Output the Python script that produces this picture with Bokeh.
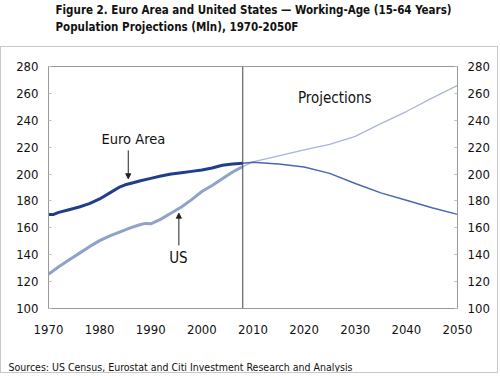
from bokeh.plotting import figure
from bokeh.models import (Range1d, LinearAxis, Label, Arrow, NormalHead, Span, FixedTicker)
from bokeh.layouts import column
from bokeh.embed import file_html
from bokeh.resources import INLINE

# ---- data ----
euro_hist_years = [1970, 1971, 1972, 1974, 1976, 1978, 1980, 1982, 1984, 1985, 1986,
                   1988, 1990, 1992, 1994, 1996, 1998, 2000, 2002, 2004, 2006, 2008]
euro_hist_vals = [170, 170, 171.5, 173.5, 175.5, 178, 181.5, 186, 190.5, 192, 193,
                  195, 196.8, 198.5, 200, 201, 202, 203, 204.5, 206.5, 207.5, 208]
euro_proj_years = [2008, 2010, 2015, 2020, 2025, 2030, 2035, 2040, 2045, 2050]
euro_proj_vals = [208, 208.8, 207.5, 205.2, 200.5, 193, 186, 180.5, 175, 170]

us_hist_years = [1970, 1972, 1974, 1976, 1978, 1980, 1982, 1984, 1986, 1988, 1989,
                 1990, 1992, 1994, 1996, 1998, 2000, 2002, 2004, 2006, 2008]
us_hist_vals = [125.5, 131, 136, 141, 146, 150.5, 154, 157, 160, 162.5, 163.3,
                163, 166.5, 171, 175.5, 181, 187, 191.5, 196.5, 201.5, 205.5]
us_proj_years = [2008, 2010, 2015, 2020, 2025, 2030, 2035, 2040, 2045, 2050]
us_proj_vals = [205.5, 209, 213.5, 218, 222, 228, 237.5, 246.5, 256.5, 266]

projection_start = 2008
x_ticks = [1970, 1980, 1990, 2000, 2010, 2020, 2030, 2040, 2050]
y_ticks = [100, 120, 140, 160, 180, 200, 220, 240, 260, 280]

title_line1 = "Figure 2. Euro Area and United States \u2014 Working-Age (15-64 Years)"
title_line2 = "Population Projections (Mln), 1970-2050F"
source_text = "Sources: US Census, Eurostat and Citi Investment Research and Analysis"

FONT = "'DejaVu Sans Condensed', 'Liberation Sans Narrow', 'Liberation Sans'"
TXT = "#111111"
BOX = "1px solid #c8c8c8"

# ---- title strip ----
t = figure(width=500, height=46, output_backend="svg", toolbar_location=None,
           x_range=Range1d(0, 1), y_range=Range1d(0, 1),
           min_border=0, background_fill_color="white", border_fill_color="white")
t.axis.visible = False
t.grid.visible = False
t.outline_line_color = None
t.add_layout(Label(x=8, y=36.5, x_units="screen", y_units="screen", text=title_line1,
                   text_font=FONT, text_font_style="bold", text_font_size="11.5px",
                   text_baseline="middle", text_color=TXT))
t.add_layout(Label(x=8, y=19.5, x_units="screen", y_units="screen", text=title_line2,
                   text_font=FONT, text_font_style="bold", text_font_size="11.5px",
                   text_baseline="middle", text_color=TXT))

# ---- main chart ----
p = figure(width=498, height=310, output_backend="svg", toolbar_location=None,
           x_range=Range1d(1970, 2050), y_range=Range1d(100, 280),
           min_border_left=47, min_border_right=42, min_border_top=19, min_border_bottom=49,
           background_fill_color="white", border_fill_color="white",
           styles={"border-left": BOX, "border-right": BOX, "border-top": BOX})
p.grid.visible = False
p.outline_line_color = "#999999"

def style_axis(ax):
    ax.axis_line_color = "#999999"
    ax.major_tick_in = 3
    ax.major_tick_out = 0
    ax.major_tick_line_color = "#bbbbbb"
    ax.minor_tick_line_color = None
    ax.major_label_text_font = FONT
    ax.major_label_text_font_size = "13px"
    ax.major_label_text_color = TXT

p.xaxis.ticker = FixedTicker(ticks=x_ticks)
p.yaxis.ticker = FixedTicker(ticks=y_ticks)
style_axis(p.xaxis[0])
style_axis(p.yaxis[0])
p.xaxis.major_tick_in = 0
p.xaxis.major_label_standoff = 16
p.yaxis.major_label_standoff = 10

ry = LinearAxis(ticker=FixedTicker(ticks=y_ticks))
style_axis(ry)
ry.major_label_standoff = 10
p.add_layout(ry, "right")

# projection divider
p.add_layout(Span(location=projection_start, dimension="height",
                  line_color="#444444", line_width=1))

# lines
p.line(us_proj_years, us_proj_vals, line_color="#a9b5da", line_width=1.3)
p.line(euro_proj_years, euro_proj_vals, line_color="#4a68b0", line_width=1.5)
p.line(us_hist_years, us_hist_vals, line_color="#8fa2c8", line_width=3)
p.line(euro_hist_years, euro_hist_vals, line_color="#1f3f8c", line_width=3)

# annotations in frame
p.add_layout(Label(x=1986.6, y=226.1, text="Euro Area", text_font=FONT,
                   text_font_size="14.5px", text_align="center", text_baseline="middle",
                   text_color=TXT))
p.add_layout(Arrow(x_start=1985.6, y_start=217.6, x_end=1985.6, y_end=196.5,
                   line_color="#222222", line_width=1,
                   end=NormalHead(size=5, fill_color="#222222", line_color="#222222")))
p.add_layout(Label(x=1995.4, y=137.2, text="US", text_font=FONT,
                   text_font_size="15px", text_align="center", text_baseline="middle",
                   text_color=TXT))
p.add_layout(Arrow(x_start=1995.5, y_start=146.9, x_end=1995.5, y_end=170.9,
                   line_color="#222222", line_width=1,
                   end=NormalHead(size=5, fill_color="#222222", line_color="#222222")))
p.add_layout(Label(x=2026, y=256.3, text="Projections", text_font=FONT,
                   text_font_size="15px", text_align="center", text_baseline="middle",
                   text_color=TXT))

# ---- source strip (bottom of the boxed area) ----
s = figure(width=498, height=17, output_backend="svg", toolbar_location=None,
           x_range=Range1d(0, 1), y_range=Range1d(0, 1),
           min_border=0, background_fill_color="white", border_fill_color="white",
           styles={"border-left": BOX, "border-right": BOX, "border-bottom": BOX})
s.axis.visible = False
s.grid.visible = False
s.outline_line_color = None
s.add_layout(Label(x=7, y=7, x_units="screen", y_units="screen", text=source_text,
                   text_font=FONT, text_font_size="10.5px",
                   text_baseline="middle", text_color=TXT))

layout = column(t, p, column(s, spacing=0), spacing=0)
open("out.html", "w").write(file_html(layout, INLINE))
